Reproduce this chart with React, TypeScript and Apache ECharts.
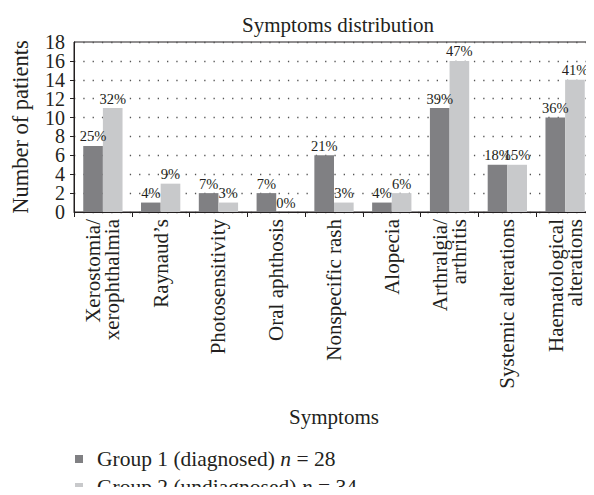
import React, { useEffect, useRef } from "react";
import * as echarts from "echarts";

const categories = [
  "Xerostomia/\nxerophthalmia",
  "Raynaud’s",
  "Photosensitivity",
  "Oral aphthosis",
  "Nonspecific rash",
  "Alopecia",
  "Arthralgia/\narthritis",
  "Systemic alterations",
  "Haematological\nalterations",
];
const group1Values = [7, 1, 2, 2, 6, 1, 11, 5, 10];
const group2Values = [11, 3, 1, 0, 1, 2, 16, 5, 14];
const group1Pct = [25, 4, 7, 7, 21, 4, 39, 18, 36];
const group2Pct = [32, 9, 3, 0, 3, 6, 47, 15, 41];
const seriesNames = ["Group 1 (diagnosed)", "Group 2 (undiagnosed)"];
const seriesN = [28, 34];
const yTicks = { min: 0, max: 18, interval: 2 };

const FONT = "'Liberation Serif', 'DejaVu Serif', serif";
const TXT = "#231f20";

export default function App() {
  const ref = useRef<HTMLDivElement>(null);
  useEffect(() => {
    if (!ref.current) return;
    const chart = echarts.init(ref.current, null, { renderer: "svg" });
    const labelFor = (pct: number[]) => ({
      show: true,
      position: "top",
      distance: 2,
      fontFamily: FONT,
      fontSize: 14.5,
      color: TXT,
      formatter: (p: any) => pct[p.dataIndex] + "%",
    });
    const yLabelBase = {
      fontFamily: FONT,
      fontSize: 20,
      color: TXT,
      margin: 9,
      hideOverlap: false,
    };
    chart.setOption({
      animation: false,
      textStyle: { fontFamily: FONT, color: TXT },
      title: {
        text: "Symptoms distribution",
        left: 333,
        top: 9,
        textAlign: "center",
        textStyle: { fontFamily: FONT, fontSize: 21, fontWeight: "normal", color: TXT },
      },
      grid: {
        left: 74,
        top: 42,
        width: 524,
        height: 170,
        show: true,
        borderColor: "#231f20",
        borderWidth: 1,
        backgroundColor: "transparent",
      },
      legend: {
        orient: "vertical",
        left: 70,
        top: 443,
        height: 80,
        itemWidth: 8,
        itemHeight: 8,
        itemGap: 6,
        icon: "rect",
        selectedMode: false,
        data: seriesNames,
        formatter: (name: string) => {
          const i = seriesNames.indexOf(name);
          return `{a|${name} }{i|n}{a| = ${seriesN[i]}}`;
        },
        textStyle: {
          padding: [0, 0, 0, 9],
          rich: {
            a: { fontFamily: FONT, fontSize: 21.5, color: TXT, lineHeight: 22 },
            i: { fontFamily: FONT, fontSize: 21.5, color: TXT, fontStyle: "italic", lineHeight: 22 },
          },
        },
      },
      xAxis: {
        type: "category",
        data: categories,
        name: "Symptoms",
        nameLocation: "middle",
        nameGap: 194,
        nameTextStyle: { fontFamily: FONT, fontSize: 21, color: TXT },
        axisLine: { show: true, lineStyle: { color: "#231f20", width: 1 } },
        axisTick: { show: true, length: 5, lineStyle: { color: "#231f20" } },
        axisLabel: {
          interval: 0,
          rotate: 90,
          margin: 7,
          fontFamily: FONT,
          fontSize: 21,
          lineHeight: 19,
          color: TXT,
        },
        splitLine: { show: false },
      },
      yAxis: [
        {
          type: "value",
          position: "left",
          min: yTicks.min,
          max: yTicks.max,
          interval: yTicks.interval,
          name: "Number of patients",
          nameLocation: "middle",
          nameRotate: 90,
          nameGap: 42,
          nameTextStyle: { fontFamily: FONT, fontSize: 22.5, color: TXT },
          axisLine: { show: true, lineStyle: { color: "#231f20", width: 1 } },
          axisTick: { show: true, length: 4, lineStyle: { color: "#231f20" } },
          axisLabel: { ...yLabelBase, showMinLabel: false, showMaxLabel: false },
          splitLine: {
            show: true,
            lineStyle: { color: "#555", width: 1.3, type: [1.3, 8] },
          },
        },
        {
          type: "value",
          position: "left",
          min: yTicks.min,
          max: yTicks.max,
          interval: yTicks.interval,
          axisLine: { show: false },
          axisTick: { show: false },
          splitLine: { show: false },
          axisLabel: {
            ...yLabelBase,
            showMinLabel: true,
            showMaxLabel: true,
            formatter: (v: number) =>
              v === yTicks.min || v === yTicks.max ? String(v) : "",
          },
        },
      ],
      series: [
        {
          name: seriesNames[0],
          type: "bar",
          yAxisIndex: 0,
          data: group1Values,
          barGap: "0%",
          barCategoryGap: "32%",
          itemStyle: { color: "#808083" },
          label: labelFor(group1Pct),
        },
        {
          name: seriesNames[1],
          type: "bar",
          yAxisIndex: 0,
          data: group2Values,
          barGap: "0%",
          barCategoryGap: "32%",
          itemStyle: { color: "#c8c9cb" },
          label: labelFor(group2Pct),
        },
      ],
    });
    return () => chart.dispose();
  }, []);
  return <div ref={ref} style={{ width: 594, height: 495, margin: -8 }} />;
}
